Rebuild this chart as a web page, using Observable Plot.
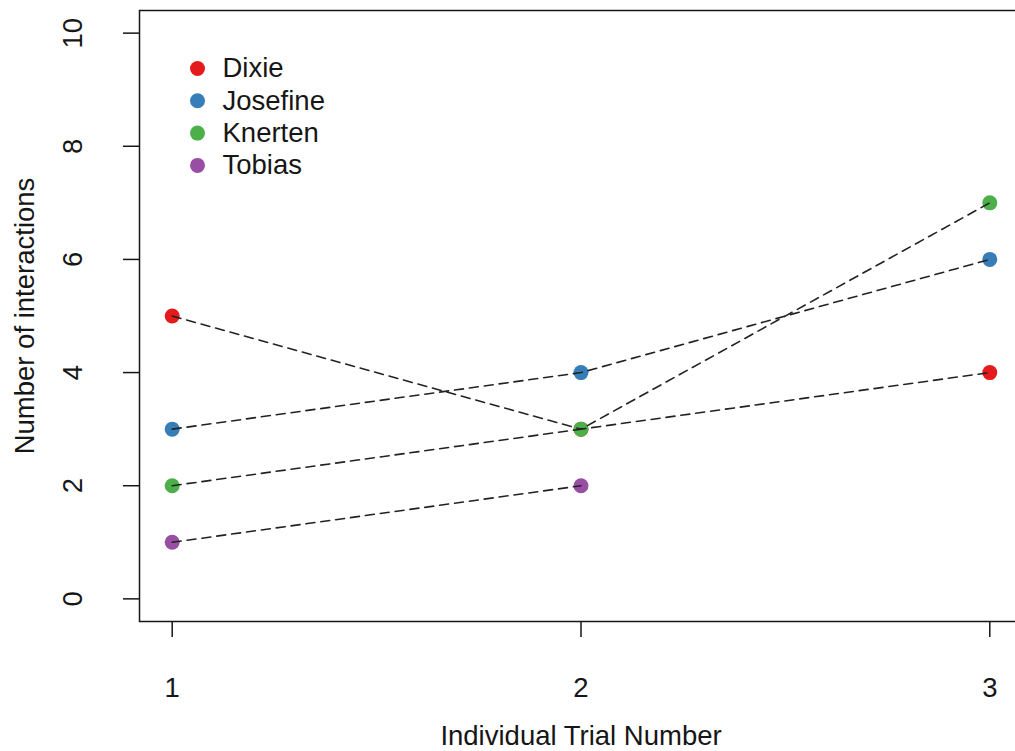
<!DOCTYPE html>
<html>
<head>
<meta charset="utf-8">
<script src="https://cdn.jsdelivr.net/npm/d3@7"></script>
<script src="https://cdn.jsdelivr.net/npm/@observablehq/plot@0.6"></script>
<style>
  html, body { margin: 0; padding: 0; background: #ffffff; }
  #chart svg { display: block; }
</style>
</head>
<body>
<div id="chart"></div>
<script>
// Interactions per individual across trials
const trials = [1, 2, 3];
const individuals = ["Dixie", "Josefine", "Knerten", "Tobias"];
const colors = ["#E41A1C", "#377EB8", "#4DAF4A", "#984EA3"];
const dixie = [5, 3, 4];
const josefine = [3, 4, 6];
const knerten = [2, 3, 7];
const tobias = [1, 2, null];
const yTicks = [0, 2, 4, 6, 8, 10];
const xTicks = [1, 2, 3];
const xTitle = "Individual Trial Number";
const yTitle = "Number of interactions";

const seriesValues = [dixie, josefine, knerten, tobias];
const rows = [];
individuals.forEach((name, i) => {
  trials.forEach((t, j) => {
    const v = seriesValues[i][j];
    if (v != null) rows.push({name, trial: t, count: v});
  });
});

const font = "'Liberation Sans', Arial, Helvetica, sans-serif";
const fs = 27.5;
const ink = "#161616";

// legend entries, stacked in the upper-left corner of the panel
const legendMarks = individuals.flatMap((name, i) => [
  Plot.dot([name], {frameAnchor: "top-left", dx: 58, dy: 58 + i * 32.3, r: 7.5, fill: colors[i], stroke: "none"}),
  Plot.text([name], {frameAnchor: "top-left", dx: 83, dy: 58 + i * 32.3, text: d => d, textAnchor: "start", lineAnchor: "middle", fontSize: fs, fill: ink})
]);

const chart = Plot.plot({
  width: 1015,
  height: 751,
  marginLeft: 139,
  marginRight: -7,
  marginTop: 10,
  marginBottom: 130,
  style: {fontFamily: font, background: "#ffffff", color: ink},
  x: {domain: [0.92, 3.08], axis: null},
  y: {domain: [-0.4, 10.4], axis: null},
  color: {domain: individuals, range: colors},
  marks: [
    Plot.frame({stroke: ink, strokeWidth: 1.5}),
    // y axis ticks and rotated labels
    Plot.axisY({ticks: yTicks, tickSize: 16, tickFormat: () => "", label: null, stroke: ink, strokeWidth: 1.5}),
    Plot.text(yTicks, {y: d => d, frameAnchor: "left", dx: -66.5, rotate: -90, text: d => String(d), textAnchor: "middle", lineAnchor: "middle", fontSize: fs, fill: ink}),
    // x axis ticks and labels
    Plot.axisX({ticks: xTicks, tickSize: 16, tickFormat: () => "", label: null, stroke: ink, strokeWidth: 1.5}),
    Plot.text(xTicks, {x: d => d, frameAnchor: "bottom", dy: 67, text: d => String(d), textAnchor: "middle", lineAnchor: "middle", fontSize: fs, fill: ink}),
    // axis titles
    Plot.text([xTitle], {frameAnchor: "bottom", dy: 115, text: d => d, textAnchor: "middle", lineAnchor: "middle", fontSize: fs, fill: ink}),
    Plot.text([yTitle], {frameAnchor: "left", dx: -114, rotate: -90, text: d => d, textAnchor: "middle", lineAnchor: "middle", fontSize: fs, fill: ink}),
    // points, then dashed connectors on top
    Plot.dot(rows, {x: "trial", y: "count", fill: "name", r: 7.5, stroke: "none"}),
    Plot.line(rows, {x: "trial", y: "count", z: "name", stroke: "#222", strokeWidth: 1.6, strokeDasharray: "9,6", curve: "linear"}),
    ...legendMarks
  ]
});

document.getElementById("chart").appendChild(chart);
</script>
</body>
</html>
